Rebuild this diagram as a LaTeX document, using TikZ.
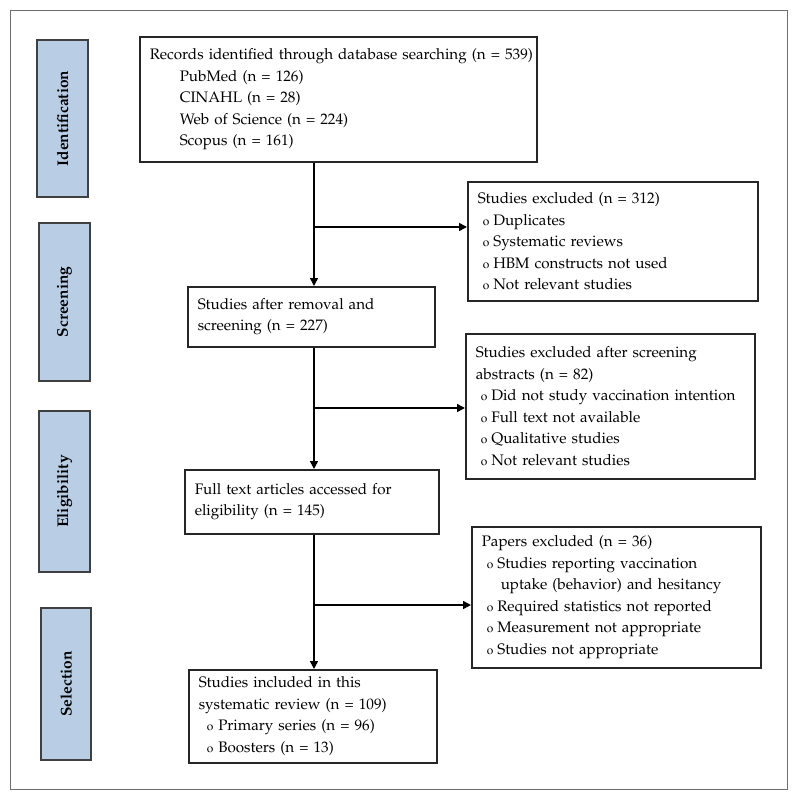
\documentclass[tikz,border=0pt]{standalone}
\usepackage[T1]{fontenc}
\usepackage{mathpazo}
\usetikzlibrary{arrows.meta}
\definecolor{sideblue}{HTML}{B9CDE5}
\definecolor{framegray}{HTML}{6E6E6E}
\newcommand{\bul}{{\fontsize{12}{12}\selectfont o}}
\begin{document}
\begin{tikzpicture}[x=1pt,y=-1pt,
  mainfont/.style={font=\fontsize{15.2}{21.5}\selectfont},
  box/.style={draw=black!85, line width=1.5pt, fill=white, anchor=north west, align=left, inner xsep=10pt, inner ysep=0pt, mainfont},
  side/.style={draw=black!75, line width=1.5pt, fill=sideblue, rotate=90, font=\bfseries\fontsize{15.5}{18}\selectfont, inner sep=0pt},
  arr/.style={line width=1.5pt, -{Triangle[length=8pt,width=8pt]}},
  ln/.style={line width=1.5pt}]
\useasboundingbox (0,0) rectangle (797,795);
\draw[framegray, line width=1pt] (10,10) rectangle (787,789);
% side labels
\node[side, minimum width=157pt, minimum height=51pt] (sid) at (62.5,118.5) {Identification};
\node[side, minimum width=158pt, minimum height=51pt] (sscr) at (64.5,302) {Screening};
\node[side, minimum width=161pt, minimum height=51pt] (selig) at (64.5,491.5) {Eligibility};
\node[side, minimum width=152pt, minimum height=50pt] (ssel) at (66,684) {Selection};
% main boxes
\node[box, text width=377pt, minimum height=125pt] (b1) at (139,36) {\makebox[377pt][l]{Records identified through database searching (n = 539)}\\
\hspace*{30pt}PubMed (n = 126)\\
\hspace*{30pt}CINAHL (n = 28)\\
\hspace*{30pt}Web of Science (n = 224)\\
\hspace*{30pt}Scopus (n = 161)};
\node[box, text width=227pt, minimum height=60pt] (b2) at (187,286) {Studies after removal and\\screening (n = 227)};
\node[box, text width=234pt, minimum height=64pt] (b3) at (184,469) {Full text articles accessed for\\eligibility (n = 145)};
\node[box, text width=228pt, minimum height=93pt] (b4) at (188,669) {Studies included in this\\systematic review (n = 109)\\
\hspace*{8pt}\bul\hspace{5pt}Primary series (n = 96)\\
\hspace*{8pt}\bul\hspace{5pt}Boosters (n = 13)};
% exclusion boxes
\node[box, text width=270pt, minimum height=119pt] (e1) at (467,181) {Studies excluded (n = 312)\\
\hspace*{5pt}\bul\hspace{4pt}Duplicates\\
\hspace*{5pt}\bul\hspace{4pt}Systematic reviews\\
\hspace*{5pt}\bul\hspace{4pt}HBM constructs not used\\
\hspace*{5pt}\bul\hspace{4pt}Not relevant studies};
\node[box, text width=269pt, minimum height=145pt] (e2) at (465,333) {Studies excluded after screening\\abstracts (n = 82)\\
\hspace*{5pt}\bul\hspace{4pt}Did not study vaccination intention\\
\hspace*{5pt}\bul\hspace{4pt}Full text not available\\
\hspace*{5pt}\bul\hspace{4pt}Qualitative studies\\
\hspace*{5pt}\bul\hspace{4pt}Not relevant studies};
\node[box, text width=269pt, minimum height=141pt] (e3) at (471,526) {Papers excluded (n = 36)\\
\hspace*{5pt}\bul\hspace{4pt}Studies reporting vaccination\\
\hspace*{19pt}uptake (behavior) and hesitancy\\
\hspace*{5pt}\bul\hspace{4pt}Required statistics not reported\\
\hspace*{5pt}\bul\hspace{4pt}Measurement not appropriate\\
\hspace*{5pt}\bul\hspace{4pt}Studies not appropriate};
% connectors
\coordinate (c1) at (314,227);
\coordinate (c2) at (314,408);
\coordinate (c3) at (314,605);
\draw[arr] (b1.south -| c1) -- (b2.north -| c1);
\draw[arr] (c1) -- (e1.west |- c1);
\draw[arr] (b2.south -| c2) -- (b3.north -| c2);
\draw[arr] (c2) -- (e2.west |- c2);
\draw[arr] (b3.south -| c3) -- (b4.north -| c3);
\draw[arr] (c3) -- (e3.west |- c3);
\end{tikzpicture}
\end{document}
